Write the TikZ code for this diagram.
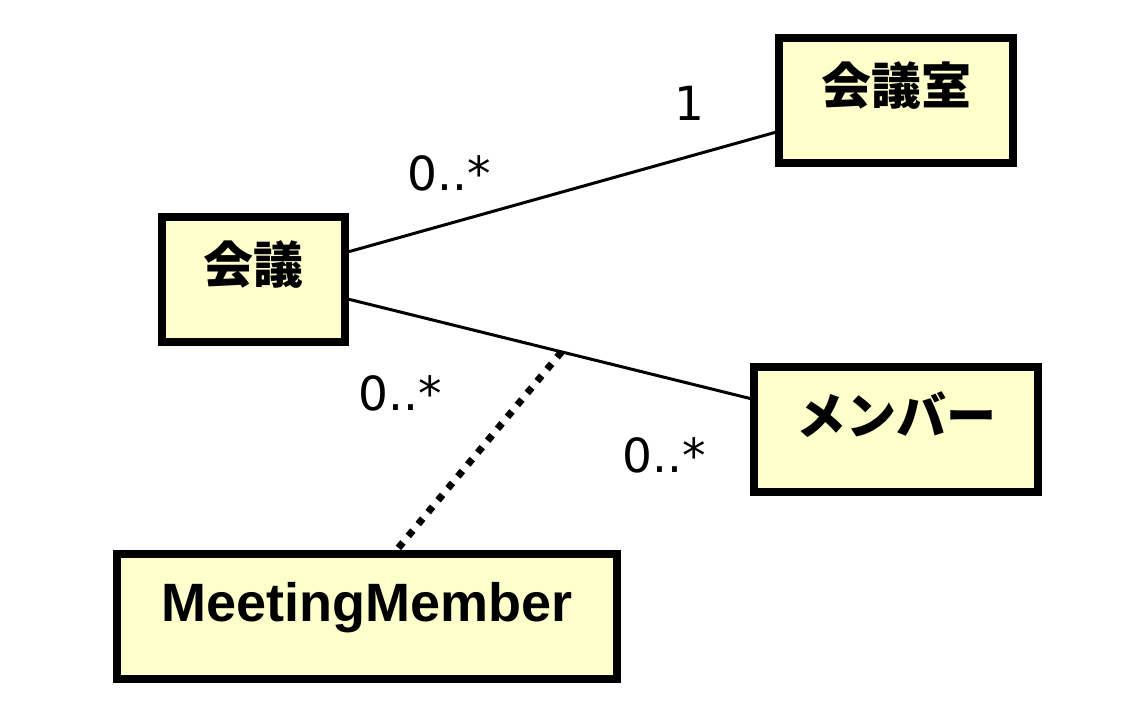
\documentclass[tikz,border=0pt]{standalone}
\usepackage{fontspec}
\setmainfont{DejaVu Sans}
\newfontfamily\jpfont{Noto Sans CJK JP}
\newfontfamily\namefont{Liberation Sans}
\usepackage{xcolor}
\usetikzlibrary{positioning,calc}
\definecolor{classfill}{HTML}{FFFFCC}
\definecolor{linecolor}{HTML}{000000}

\tikzset{
  classbox/.style={draw=linecolor,line width=8pt,fill=classfill,inner sep=0pt,text height=67pt,text depth=58pt},
  jpname/.style={font=\jpfont\bfseries\fontsize{50}{50}\selectfont},
  enname/.style={font=\namefont\bfseries\fontsize{54}{54}\selectfont},
  mult/.style={font=\fontsize{47}{47}\selectfont,inner sep=0pt,anchor=base},
  assoc/.style={draw=linecolor,line width=3pt},
  assocclass/.style={draw=linecolor,line width=7pt,dash pattern=on 7pt off 8.5pt}
}

\begin{document}
\begin{tikzpicture}[x=1pt,y=-1pt]
    \useasboundingbox (0,0) rectangle (1121,721);

    % Classes
    \node[classbox,jpname,minimum width=183pt] (kaigi) at (253.5,279) {会議};
    \node[classbox,jpname,minimum width=234pt] (room) at (896,100) {会議室};
    \node[classbox,jpname,minimum width=284pt] (member) at (896,429.5) {メンバー};
    \node[classbox,enname,minimum width=500pt] (meetingmember) at (367,616.5) {MeetingMember};

    % Associations
    \draw[assoc] (kaigi.16) -- (room.195);
    \draw[assoc] (kaigi.-12) -- coordinate[pos=0.53] (assocmid) (member.168);

    % Association class
    \draw[assocclass] (assocmid) -- (meetingmember.66);

    % Multiplicities
    \node[mult] (roommult) at (689,120) {1};
    \node[mult] (kaigiroommult) at (449,190) {0..*};
    \node[mult] (kaigimembermult) at (400.5,410) {0..*};
    \node[mult] (membermult) at (664.5,472) {0..*};
\end{tikzpicture}
\end{document}
